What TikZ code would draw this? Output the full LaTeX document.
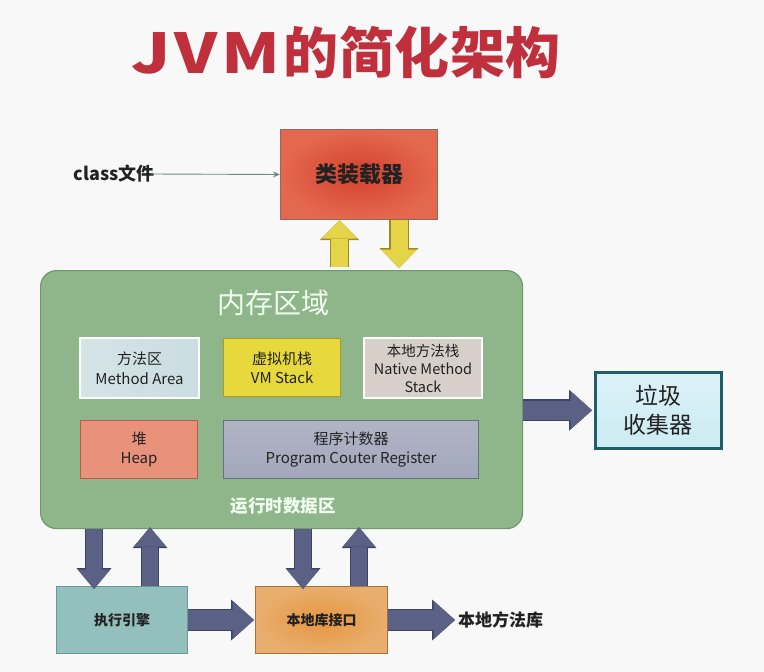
\documentclass[tikz,border=0pt]{standalone}
\usepackage{fontspec}
\setmainfont{Noto Sans CJK SC}
\usetikzlibrary{arrows.meta}
\definecolor{bgc}{HTML}{F8F8F8}
\definecolor{titlered}{HTML}{C0303C}
\definecolor{loaderin}{HTML}{D4422E}
\definecolor{loaderout}{HTML}{E4684E}
\definecolor{loaderln}{HTML}{8E6A62}
\definecolor{memfill}{HTML}{8FB68B}
\definecolor{memln}{HTML}{6E9A6B}
\definecolor{mafill}{HTML}{CADDE0}
\definecolor{vmfill}{HTML}{E7D93C}
\definecolor{vmln}{HTML}{A99A2A}
\definecolor{natfill}{HTML}{D6CFCA}
\definecolor{heapfill}{HTML}{E8917B}
\definecolor{heapln}{HTML}{B95A4A}
\definecolor{pcfill}{HTML}{A3A7BB}
\definecolor{pcln}{HTML}{6B6F83}
\definecolor{gcfill}{HTML}{CCEBF3}
\definecolor{gcln}{HTML}{1F5E6A}
\definecolor{exfill}{HTML}{93BFBD}
\definecolor{exln}{HTML}{6A9896}
\definecolor{jnifill}{HTML}{E29A4A}
\definecolor{jniln}{HTML}{AE7032}
\definecolor{darr}{HTML}{5B6185}
\definecolor{darrln}{HTML}{3E4463}
\definecolor{yarr}{HTML}{E5D448}
\definecolor{yarrln}{HTML}{9C8B22}
\definecolor{thinarr}{HTML}{6E8C84}
\definecolor{txt}{HTML}{222222}
\tikzset{
  box/.style={anchor=north west, inner sep=0pt, align=center, text=txt, font=\fontsize{15}{19.5}\selectfont},
  vyarrow/.style={line cap=butt,
    preaction={draw=yarrln, line width=19.6pt, -{Triangle[width=39pt,length=20pt,line width=0pt]}},
    draw=yarr, line width=17pt, -{Triangle[width=36pt,length=18.5pt,line width=0pt]}},
  vdarrow/.style={line cap=butt,
    preaction={draw=darrln, line width=17.6pt, -{Triangle[width=35pt,length=21pt,line width=0pt]}},
    draw=darr, line width=15.5pt, -{Triangle[width=32.5pt,length=19.5pt,line width=0pt]}},
  hdarrow/.style={line cap=butt,
    preaction={draw=darrln, line width=21.6pt, -{Triangle[width=41pt,length=23pt,line width=0pt]}},
    draw=darr, line width=19.5pt, -{Triangle[width=38.5pt,length=21.5pt,line width=0pt]}},
}
\begin{document}
\begin{tikzpicture}[x=1pt,y=-1pt]
\fill[bgc] (0,0) rectangle (764,672);
\useasboundingbox (0,0) rectangle (764,672);

% title
\node[text=titlered, inner sep=0pt, font=\fontsize{55}{58}\bfseries\selectfont] (title) at (346,52)
  {{\addfontfeature{LetterSpace=6}\scalebox{1.22}[1]{JVM}}\hspace{3pt}{\addfontfeature{LetterSpace=1}的简化架构}};

% class loader
\node[box, minimum width=157pt, minimum height=90pt, draw=loaderln, line width=1pt,
      inner color=loaderin, outer color=loaderout,
      font=\fontsize{22}{24}\bfseries\selectfont] (loader) at (280,129) {类装载器};
\node[font=\fontsize{18}{20}\bfseries\selectfont, text=txt, inner sep=0pt] (cls) at (114,174) {class文件};
\draw[thinarr, line width=0.9pt, -{Stealth[length=7pt,width=6pt]}] ([xshift=-4pt]cls.east) -- (loader.west);

% memory area
\node[box, minimum width=482pt, minimum height=258pt, rounded corners=16pt,
      fill=memfill, draw=memln, line width=1.2pt] (mem) at (40,270) {};
\node[text=white!94!green, font=\fontsize{28}{30}\selectfont] (memt) at (273,303) {内存区域};
\node[box, minimum width=119pt, minimum height=60pt, draw=white, line width=2pt,
      left color=mafill!80!white, right color=mafill] (ma) at (79,337) {方法区\\Method Area};
\node[box, minimum width=117pt, minimum height=58pt, draw=vmln, line width=1.2pt,
      fill=vmfill] (vm) at (223,338) {虚拟机栈\\VM Stack};
\node[box, minimum width=118pt, minimum height=60pt, draw=white, line width=2pt,
      fill=natfill, font=\fontsize{14.5}{18}\selectfont] (nat) at (363,337) {本地方法栈\\Native Method\\Stack};
\node[box, minimum width=117pt, minimum height=58pt, draw=heapln, line width=1.2pt,
      fill=heapfill] (heap) at (80,420) {堆\\Heap};
\node[box, minimum width=255pt, minimum height=58pt, draw=pcln, line width=1.2pt,
      top color=pcfill!85!white, bottom color=pcfill] (pc) at (223,420) {程序计数器\\Program Couter Register};
\node[text=white!94!green, font=\fontsize{17.5}{19}\bfseries\selectfont] (rt) at (283,506) {运行时数据区};

% garbage collector
\node[box, minimum width=126pt, minimum height=76pt, draw=gcln, line width=2.5pt,
      top color=gcfill!70!white, bottom color=gcfill,
      font=\fontsize{23}{29.5}\selectfont] (gc) at (594,371) {垃圾\\收集器};

% bottom boxes
\node[box, minimum width=131pt, minimum height=67pt, draw=exln, line width=1pt,
      fill=exfill, font=\fontsize{14}{16}\bfseries\selectfont] (exec) at (56,586) {执行引擎};
\node[box, minimum width=132pt, minimum height=67pt, draw=jniln, line width=1pt,
      inner color=jnifill!85!orange, outer color=jnifill!80!white, font=\fontsize{14}{16}\bfseries\selectfont] (jni) at (255,586) {本地库接口};
\node[anchor=west, inner sep=0pt, text=txt, font=\fontsize{17}{19}\bfseries\selectfont] (lib) at (458,620) {本地方法库};

% yellow arrows
\coordinate (yu) at ([xshift=-19.5pt]loader.south);
\coordinate (yd) at ([xshift=40pt]loader.south);
\draw[vyarrow] ([yshift=3pt]yu |- mem.north) -- (yu);
\draw[vyarrow] (yd) -- ([yshift=2pt]yd |- mem.north);

% arrow to gc
\draw[hdarrow] (mem.east |- gc.west) -- ([xshift=-2pt]gc.west);

% vertical dark arrows
\coordinate (ed) at ([xshift=-28pt]exec.north);
\coordinate (eu) at ([xshift=28pt]exec.north);
\coordinate (jd) at ([xshift=-18.5pt]jni.north);
\coordinate (ju) at ([xshift=37.5pt]jni.north);
\draw[vdarrow] (ed |- mem.south) -- ([yshift=-3pt]ed);
\draw[vdarrow] (eu) -- ([yshift=2pt]eu |- mem.south);
\draw[vdarrow] (jd |- mem.south) -- ([yshift=-3pt]jd);
\draw[vdarrow] (ju) -- ([yshift=2pt]ju |- mem.south);

% horizontal dark arrows
\draw[hdarrow] (exec.east) -- ([xshift=-1pt]jni.west);
\draw[hdarrow] (jni.east) -- ([xshift=-3pt]lib.west);
\end{tikzpicture}
\end{document}
